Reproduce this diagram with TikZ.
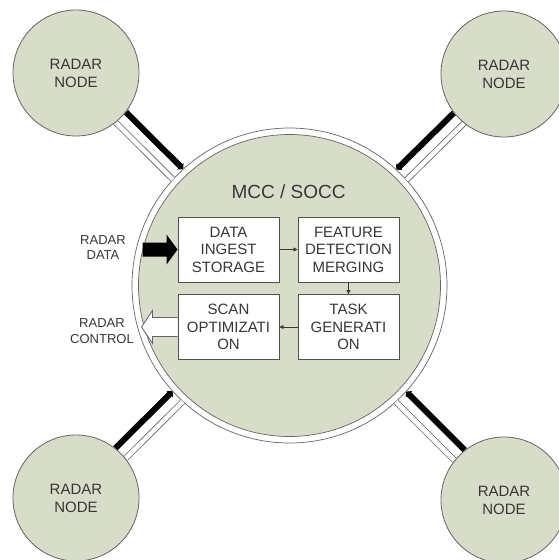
\documentclass[tikz,border=0pt]{standalone}
\usepackage{fontspec}
\setmainfont{Liberation Sans}
\usetikzlibrary{calc,arrows.meta}
\definecolor{sage}{RGB}{215,221,201}
\definecolor{edge}{RGB}{100,100,100}
\definecolor{ink}{RGB}{55,55,55}
\newcommand\radarlink[3]{%
  \draw[dataline] ($(#1)!63pt!(mcc)!7.5pt!#2:(mcc)$) -- ($(mcc)!157.5pt!(#1)!7.5pt!#3:(#1)$);
  \draw[ctrlline] ($(#1)!63pt!(mcc)!7pt!#3:(mcc)$) -- ($(mcc)!157.5pt!(#1)!7pt!#2:(#1)$);
}
\begin{document}
\begin{tikzpicture}[x=1pt,y=-1pt,
  radar/.style={circle,draw=edge,line width=0.8pt,fill=sage,minimum size=126pt,inner sep=0pt,align=center,text=ink,font=\fontsize{15}{18}\selectfont},
  box/.style={rectangle,draw=edge!80!black,line width=0.9pt,fill=white,minimum width=101pt,minimum height=65pt,inner sep=0pt,align=center,text=ink,font=\fontsize{15}{17.5}\selectfont},
  lbl/.style={align=center,text=ink,font=\fontsize{13}{15.5}\selectfont,inner sep=0pt},
  dataline/.style={line width=6pt,black,-{Triangle[length=4pt,width=9pt]}},
  ctrlline/.style={draw=edge,double=white,double distance=4.5pt,line width=0.8pt},
  flow/.style={draw=ink,line width=0.8pt,-{Triangle[length=4pt,width=4pt]}}
]
\useasboundingbox (0,0) rectangle (559,560);
\clip (0,0) rectangle (559,560);
\fill[white] (0,0) rectangle (559,560);
% central circle
\node[circle,draw=edge,line width=0.7pt,fill=white,minimum size=315pt,inner sep=0pt] (mcc) at (289.5,285.5) {};
\draw[edge,line width=0.7pt,fill=sage] (mcc.center) circle[radius=151pt];
% radar nodes (coordinates first for links)
\coordinate (tlc) at (76,73);
\coordinate (trc) at (504,74);
\coordinate (blc) at (76,498);
\coordinate (brc) at (504,500);
\radarlink{tlc}{90}{-90}
\radarlink{trc}{-90}{90}
\radarlink{blc}{90}{-90}
\radarlink{brc}{-90}{90}
\node[radar] (tl) at (tlc) {RADAR\\NODE};
\node[radar] (tr) at (trc) {RADAR\\NODE};
\node[radar] (bl) at (blc) {RADAR\\NODE};
\node[radar] (br) at (brc) {RADAR\\NODE};
% title
\node[text=ink,font=\fontsize{19}{22}\selectfont,inner sep=0pt] (title) at (288.5,192) {MCC / SOCC};
% boxes
\node[box] (ingest) at (228.5,249.5) {DATA\\INGEST\\STORAGE};
\node[box] (feature) at (348.5,249.5) {FEATURE\\DETECTION\\MERGING};
\node[box] (task) at (348.5,327) {TASK\\GENERATI\\ON};
\node[box] (scan) at (228.5,327) {SCAN\\OPTIMIZATI\\ON};
\draw[flow] (ingest) -- (feature);
\draw[flow] (feature) -- (task);
\draw[flow] (task) -- (scan);
% big arrows
\fill[black] (ingest.west) -- ++(-11,-15) -- ++(0,8) -- ++(-24,0) -- ++(0,14) -- ++(24,0) -- ++(0,8) -- cycle;
\draw[edge,fill=white,line width=0.8pt] ($(scan.west)+(0,-9.5)$) -- ++(-25,0) -- ++(0,-7) -- ++(-11,16.5) -- ++(11,16.5) -- ++(0,-7) -- ++(25,0);
% labels
\node[lbl] (rd) at (103,247.5) {RADAR\\DATA};
\node[lbl] (rc) at (102,331) {RADAR\\CONTROL};
\end{tikzpicture}
\end{document}
